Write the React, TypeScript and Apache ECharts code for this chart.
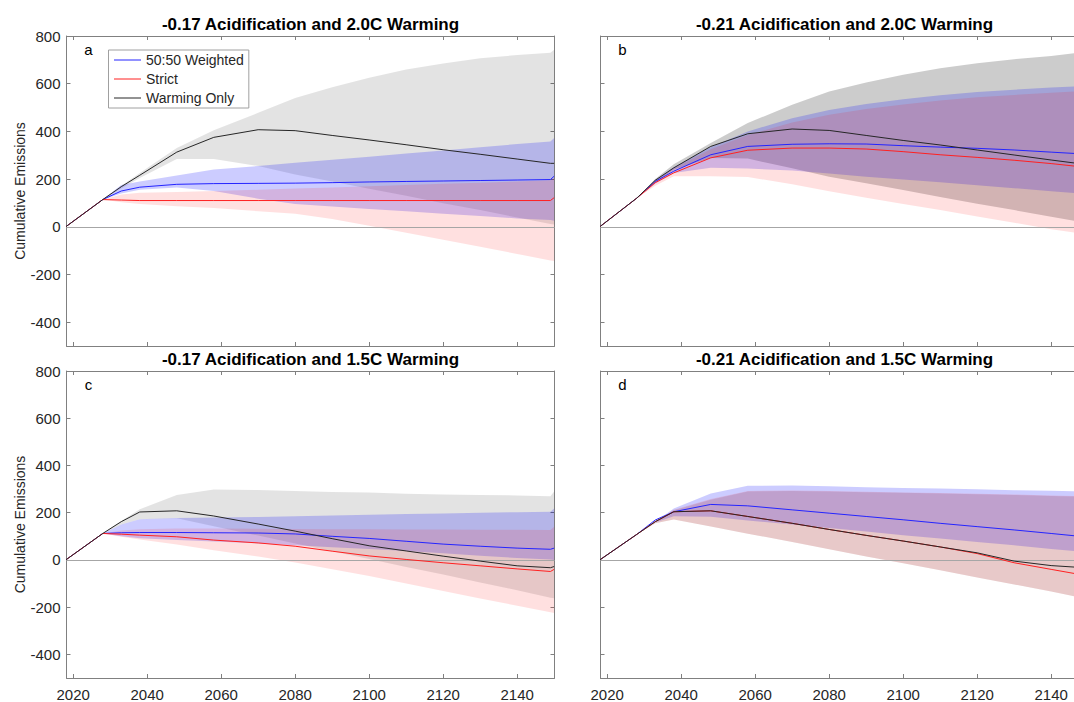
import React, { useEffect, useRef } from "react";
import * as echarts from "echarts";

// ---------------- data ----------------
const YEARS = [2018, 2028, 2033, 2038, 2048, 2058, 2070, 2080, 2090, 2100, 2110, 2120, 2130, 2140, 2149, 2150];
const X_TICKS = [2020, 2040, 2060, 2080, 2100, 2120, 2140];
const Y_TICKS = [-400, -200, 0, 200, 400, 600, 800];
const SERIES_NAMES = ["50:50 Weighted", "Strict", "Warming Only"];
const PANEL_TITLES = [
  "-0.17 Acidification and 2.0C Warming",
  "-0.21 Acidification and 2.0C Warming",
  "-0.17 Acidification and 1.5C Warming",
  "-0.21 Acidification and 1.5C Warming",
];
const PANEL_LETTERS = ["a", "b", "c", "d"];
const Y_NAME = "Cumulative Emissions";

// panel a
const A_W5050 = [0, 114, 150, 166, 178, 181, 182, 183, 185, 188, 190, 192, 194, 196, 198, 212];
const A_W5050_LO = [0, 114, 140, 155, 165, 150, 118, 95, 85, 75, 65, 55, 45, 35, 28, 25];
const A_W5050_HI = [0, 114, 175, 190, 215, 240, 255, 268, 281, 294, 307, 320, 333, 347, 358, 372];
const A_STRICT = [0, 114, 112, 110, 110, 110, 110, 110, 110, 110, 110, 110, 110, 110, 110, 122];
const A_STRICT_LO = [0, 114, 103, 95, 86, 79, 65, 55, 33, 4, -25, -54, -84, -114, -141, -144];
const A_STRICT_HI = [0, 114, 135, 143, 146, 150, 155, 160, 165, 170, 175, 180, 185, 190, 195, 205];
const A_WARM = [0, 114, 168, 216, 313, 375, 407, 403, 383, 364, 344, 323, 304, 284, 266, 266];
const A_WARM_LO = [0, 114, 160, 205, 284, 284, 255, 219, 190, 159, 130, 99, 70, 39, 12, 10];
const A_WARM_HI = [0, 114, 172, 225, 330, 405, 478, 540, 585, 625, 660, 685, 707, 720, 730, 742];

// panel b
const B_W5050 = [0, 120, 190, 233, 302, 337, 346, 348, 347, 340, 334, 329, 322, 313, 305, 305];
const B_W5050_LO = [0, 120, 180, 225, 247, 244, 236, 223, 210, 198, 187, 174, 162, 149, 139, 138];
const B_W5050_HI = [0, 120, 197, 250, 335, 400, 455, 490, 515, 535, 552, 565, 575, 584, 590, 592];
const B_STRICT = [0, 120, 185, 226, 289, 321, 330, 330, 326, 315, 302, 291, 279, 265, 250, 250];
const B_STRICT_LO = [0, 120, 172, 212, 212, 209, 178, 149, 122, 96, 70, 43, 17, -10, -31, -33];
const B_STRICT_HI = [0, 120, 192, 245, 325, 385, 437, 470, 494, 513, 530, 543, 553, 562, 570, 572];
const B_WARM = [0, 120, 195, 247, 337, 390, 410, 404, 383, 362, 343, 322, 301, 280, 262, 261];
const B_WARM_LO = [0, 120, 185, 240, 288, 286, 245, 210, 182, 154, 125, 97, 70, 42, 17, 15];
const B_WARM_HI = [0, 120, 200, 262, 351, 435, 512, 567, 605, 637, 665, 686, 703, 716, 733, 737];

// panel c
const C_W5050 = [0, 112, 115, 116, 116, 115, 114, 110, 100, 91, 79, 67, 58, 50, 45, 50];
const C_W5050_LO = [0, 112, 100, 92, 84, 78, 70, 62, 54, 46, 38, 28, 18, 8, 2, 0];
const C_W5050_HI = [0, 112, 150, 172, 178, 180, 182, 185, 188, 191, 194, 197, 200, 202, 204, 218];
const C_STRICT = [0, 112, 109, 105, 98, 84, 72, 58, 37, 17, 2, -12, -25, -38, -49, -40];
const C_STRICT_LO = [0, 112, 98, 87, 65, 41, 14, -11, -40, -68, -100, -132, -163, -194, -222, -225];
const C_STRICT_HI = [0, 112, 125, 130, 133, 133, 132, 131, 130, 130, 129, 129, 128, 128, 127, 140];
const C_WARM = [0, 112, 162, 203, 208, 186, 152, 122, 90, 60, 38, 16, -5, -25, -33, -28];
const C_WARM_LO = [0, 112, 150, 172, 176, 143, 103, 70, 37, 4, -30, -62, -96, -128, -160, -162];
const C_WARM_HI = [0, 112, 165, 215, 275, 298, 296, 292, 288, 285, 280, 277, 275, 273, 270, 290];

// panel d
const D_W5050 = [0, 108, 169, 204, 235, 229, 212, 198, 184, 170, 155, 141, 127, 112, 98, 97];
const D_W5050_LO = [0, 108, 158, 185, 183, 167, 150, 135, 120, 105, 91, 76, 62, 46, 34, 33];
const D_W5050_HI = [0, 108, 162, 218, 281, 314, 315, 312, 308, 305, 302, 299, 295, 293, 290, 290];
const D_STRICT = [0, 108, 162, 204, 208, 184, 155, 129, 104, 80, 55, 27, -12, -40, -65, -66];
const D_STRICT_LO = [0, 108, 155, 171, 142, 111, 76, 45, 15, -14, -44, -74, -104, -134, -163, -165];
const D_STRICT_HI = [0, 108, 160, 212, 258, 292, 294, 292, 289, 286, 283, 280, 277, 273, 270, 270];
const D_WARM = [0, 108, 162, 204, 208, 184, 155, 129, 104, 80, 55, 30, -5, -24, -33, -33];
const D_WARM_LO = [0, 108, 155, 171, 142, 111, 76, 45, 15, -14, -44, -74, -104, -134, -163, -165];
const D_WARM_HI = [0, 108, 160, 210, 255, 290, 292, 290, 287, 284, 281, 278, 275, 271, 268, 268];

// ---------------- layout / style ----------------
const FONT = "'Liberation Sans', Arial, Helvetica, sans-serif";
const X_MIN = 2018.2;
const X_MAX = 2150.1;
const Y_MIN = -500;
const Y_MAX = 800;
const GRIDS = [
  { left: 66.5, top: 36, width: 488, height: 310 },
  { left: 600.5, top: 36, width: 488, height: 310 },
  { left: 66.5, top: 371, width: 488, height: 308 },
  { left: 600.5, top: 371, width: 488, height: 308 },
];
const GRAY_ALPHA = [0.11, 0.2, 0.11, 0.1];
const LINE_COLORS = ["#2424ff", "#ff2020", "#262626"];

const PANELS = [
  { w: [A_W5050, A_W5050_LO, A_W5050_HI], s: [A_STRICT, A_STRICT_LO, A_STRICT_HI], k: [A_WARM, A_WARM_LO, A_WARM_HI] },
  { w: [B_W5050, B_W5050_LO, B_W5050_HI], s: [B_STRICT, B_STRICT_LO, B_STRICT_HI], k: [B_WARM, B_WARM_LO, B_WARM_HI] },
  { w: [C_W5050, C_W5050_LO, C_W5050_HI], s: [C_STRICT, C_STRICT_LO, C_STRICT_HI], k: [C_WARM, C_WARM_LO, C_WARM_HI] },
  { w: [D_W5050, D_W5050_LO, D_W5050_HI], s: [D_STRICT, D_STRICT_LO, D_STRICT_HI], k: [D_WARM, D_WARM_LO, D_WARM_HI] },
];

function bandSeries(gi: number, lo: number[], hi: number[], fill: string, name: string) {
  return {
    type: "custom",
    name,
    xAxisIndex: gi * 2,
    yAxisIndex: gi * 2,
    clip: true,
    silent: true,
    data: YEARS.map((y, i) => [y, lo[i], hi[i]]),
    encode: { x: 0, y: [1, 2] },
    renderItem: (params: any, api: any) => {
      if (params.dataIndex !== 0) return null;
      const pts: number[][] = [];
      for (let i = 0; i < YEARS.length; i++) pts.push(api.coord([YEARS[i], hi[i]]));
      for (let i = YEARS.length - 1; i >= 0; i--) pts.push(api.coord([YEARS[i], lo[i]]));
      return { type: "polygon", shape: { points: pts }, style: { fill, stroke: "none" } };
    },
    z: 1,
  };
}

function lineSeries(gi: number, vals: number[], color: string, name: string, zero: boolean) {
  const s: any = {
    type: "line",
    name,
    xAxisIndex: gi * 2,
    yAxisIndex: gi * 2,
    data: YEARS.map((y, i) => [y, vals[i]]),
    symbol: "none",
    showSymbol: false,
    smooth: false,
    color,
    lineStyle: { color, width: 1 },
    silent: true,
    clip: true,
    z: 3,
  };
  if (zero) {
    s.markLine = {
      silent: true,
      symbol: "none",
      label: { show: false },
      lineStyle: { color: "#a6a6a6", width: 1, type: "solid" },
      data: [{ yAxis: 0 }],
      z: 2,
    };
  }
  return s;
}

const fmt = (v: number) => String(Math.round(v));

function buildOption() {
  const grid: any[] = [];
  const xAxis: any[] = [];
  const yAxis: any[] = [];
  const series: any[] = [];
  const graphic: any[] = [];

  GRIDS.forEach((g, gi) => {
    grid.push({ ...g, containLabel: false, show: false });
    const isBottom = gi >= 2;
    const isLeft = gi % 2 === 0;
    const axisLine = { show: true, onZero: false, lineStyle: { color: "#808080", width: 1 } };
    const tick = (vals: number[]) => ({
      show: true,
      inside: true,
      length: 4,
      customValues: vals,
      lineStyle: { color: "#808080", width: 1 },
    });
    xAxis.push({
      gridIndex: gi,
      type: "value",
      position: "bottom",
      min: X_MIN,
      max: X_MAX,
      axisLine,
      axisTick: tick(X_TICKS),
      axisLabel: {
        show: isBottom,
        customValues: X_TICKS,
        formatter: fmt,
        color: "#262626",
        fontSize: 15,
        fontFamily: FONT,
        margin: 9,
      },
      splitLine: { show: false },
    });
    xAxis.push({
      gridIndex: gi,
      type: "value",
      position: "top",
      min: X_MIN,
      max: X_MAX,
      axisLine,
      axisTick: tick(X_TICKS),
      axisLabel: { show: false },
      splitLine: { show: false },
    });
    yAxis.push({
      gridIndex: gi,
      type: "value",
      position: "left",
      min: Y_MIN,
      max: Y_MAX,
      axisLine,
      axisTick: tick(Y_TICKS),
      axisLabel: {
        show: isLeft,
        customValues: Y_TICKS,
        formatter: fmt,
        color: "#262626",
        fontSize: 15,
        fontFamily: FONT,
        margin: 6,
      },
      name: isLeft ? Y_NAME : "",
      nameLocation: "middle",
      nameGap: 40,
      nameTextStyle: { color: "#262626", fontSize: 14, fontFamily: FONT },
      splitLine: { show: false },
    });
    yAxis.push({
      gridIndex: gi,
      type: "value",
      position: "right",
      min: Y_MIN,
      max: Y_MAX,
      axisLine,
      axisTick: tick(Y_TICKS),
      axisLabel: { show: false },
      splitLine: { show: false },
    });

    const p = PANELS[gi];
    series.push(bandSeries(gi, p.k[1], p.k[2], `rgba(0,0,0,${GRAY_ALPHA[gi]})`, `band-warm-${gi}`));
    series.push(bandSeries(gi, p.w[1], p.w[2], "rgba(0,0,255,0.2)", `band-w5050-${gi}`));
    series.push(bandSeries(gi, p.s[1], p.s[2], "rgba(255,0,0,0.12)", `band-strict-${gi}`));
    series.push(lineSeries(gi, p.w[0], LINE_COLORS[0], SERIES_NAMES[0], true));
    series.push(lineSeries(gi, p.s[0], LINE_COLORS[1], SERIES_NAMES[1], false));
    series.push(lineSeries(gi, p.k[0], LINE_COLORS[2], SERIES_NAMES[2], false));

    graphic.push({
      type: "text",
      x: g.left + g.width / 2,
      y: g.top - 12,
      style: {
        text: PANEL_TITLES[gi],
        align: "center",
        verticalAlign: "middle",
        fontSize: 17,
        fontWeight: "bold",
        fontFamily: FONT,
        fill: "#000000",
      },
      z: 10,
    });
    graphic.push({
      type: "text",
      x: g.left + 22,
      y: g.top + 13,
      style: {
        text: PANEL_LETTERS[gi],
        align: "center",
        verticalAlign: "middle",
        fontSize: 15,
        fontFamily: FONT,
        fill: "#000000",
      },
      z: 10,
    });
  });

  return {
    animation: false,
    backgroundColor: "#ffffff",
    textStyle: { fontFamily: FONT },
    grid,
    xAxis,
    yAxis,
    series,
    graphic,
    legend: {
      show: true,
      data: SERIES_NAMES,
      orient: "vertical",
      left: 108.5,
      top: 50,
      padding: [3, 5, 3, 5],
      itemWidth: 27,
      itemHeight: 14,
      itemGap: 5,
      borderColor: "#a0a0a0",
      borderWidth: 1,
      borderRadius: 0,
      backgroundColor: "#ffffff",
      selectedMode: false,
      itemStyle: { opacity: 0 },
      lineStyle: { width: 1 },
      textStyle: { fontSize: 14, color: "#262626", fontFamily: FONT },
      z: 20,
    },
  };
}

export default function App() {
  const ref = useRef<HTMLDivElement | null>(null);
  useEffect(() => {
    if (!ref.current) return;
    const chart = echarts.init(ref.current, undefined, { renderer: "svg" });
    chart.setOption(buildOption() as any);
    return () => chart.dispose();
  }, []);
  return (
    <div
      style={{
        position: "fixed",
        left: 0,
        top: 0,
        width: 1074,
        height: 702,
        overflow: "hidden",
        background: "#ffffff",
      }}
    >
      <div ref={ref} style={{ width: 1100, height: 702 }} />
    </div>
  );
}
